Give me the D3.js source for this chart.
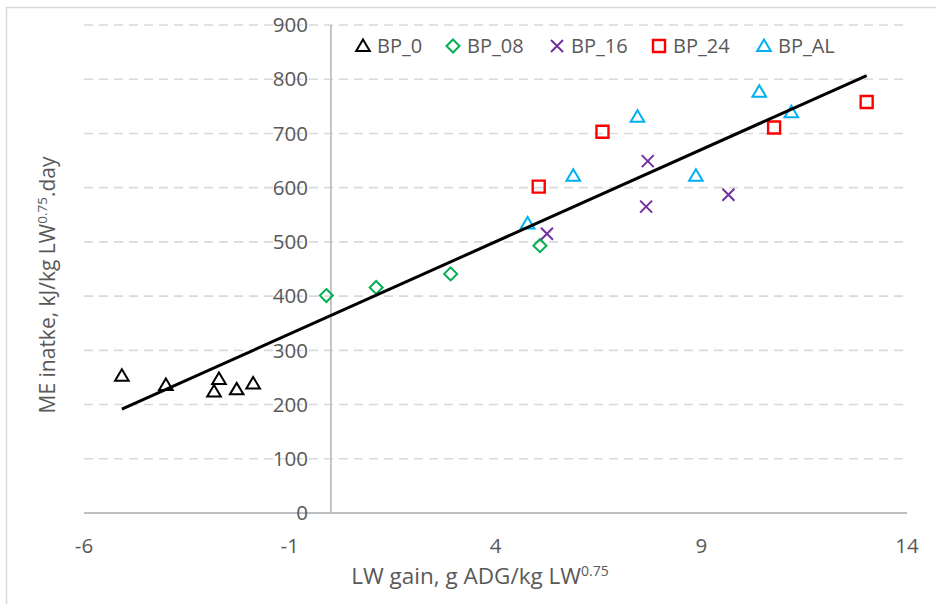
<!DOCTYPE html>
<html>
<head>
<meta charset="utf-8">
<script src="https://cdn.jsdelivr.net/npm/d3@7/dist/d3.min.js"></script>
<style>
  html, body { margin: 0; padding: 0; background: #fff; }
  svg { display: block; font-family: "Open Sans", Lato, sans-serif; }
</style>
</head>
<body>
<svg id="chart" width="936" height="604"></svg>
<script>
// Live-weight gain (x) vs ME intake (y) for each treatment group
const seriesNames = ["BP_0", "BP_08", "BP_16", "BP_24", "BP_AL"];
const bp0X  = [-5.08, -4.01, -2.84, -2.72, -2.29, -1.89];
const bp0Y  = [253, 236, 224, 247, 228, 239];
const bp08X = [-0.11, 1.10, 2.91, 5.08];
const bp08Y = [401, 416, 441, 493];
const bp16X = [5.25, 7.70, 7.66, 9.66];
const bp16Y = [515, 649, 565, 587];
const bp24X = [5.05, 6.60, 10.77, 13.02];
const bp24Y = [602, 703, 711, 758];
const bpAlX = [4.78, 5.89, 7.45, 8.87, 10.41, 11.19];
const bpAlY = [534, 622, 731, 622, 777, 739];

const xTicks = [-6, -1, 4, 9, 14];
const yTicks = [0, 100, 200, 300, 400, 500, 600, 700, 800, 900];

const seriesX = [bp0X, bp08X, bp16X, bp24X, bpAlX];
const seriesY = [bp0Y, bp08Y, bp16Y, bp24Y, bpAlY];
const colors  = ["#000000", "#00B050", "#7030A0", "#FF0000", "#00B0F0"];
const shapes  = ["triangle", "diamond", "cross", "square", "triangle"];

const series = seriesNames.map((name, i) => ({
  name, color: colors[i], shape: shapes[i],
  points: seriesX[i].map((x, j) => ({ x, y: seriesY[i][j] }))
}));

const svg = d3.select("#chart");
const x = d3.scaleLinear().domain([-6, 14]).range([84, 907]);
const y = d3.scaleLinear().domain([0, 900]).range([513, 25]);

const textColor = "#595959";
const tickSize = 20.5;
const titleSize = 21;

// outer chart frame
svg.append("rect")
  .attr("x", 6.5).attr("y", 7.5).attr("width", 940).attr("height", 610)
  .attr("fill", "none").attr("stroke", "#d9d9d9").attr("stroke-width", 1.5);

// horizontal dashed gridlines
svg.append("g")
  .selectAll("line")
  .data(yTicks.filter(d => d > 0))
  .join("line")
  .attr("x1", x(-6)).attr("x2", x(14))
  .attr("y1", d => y(d)).attr("y2", d => y(d))
  .attr("stroke", "#d9d9d9").attr("stroke-width", 1.6)
  .attr("stroke-dasharray", "9,6");

// x axis line at y = 0
svg.append("line")
  .attr("x1", x(-6)).attr("x2", x(14))
  .attr("y1", y(0)).attr("y2", y(0))
  .attr("stroke", "#bfbfbf").attr("stroke-width", 2.2);

// y axis line at x = 0
svg.append("line")
  .attr("x1", x(0)).attr("x2", x(0))
  .attr("y1", y(900)).attr("y2", y(0))
  .attr("stroke", "#bfbfbf").attr("stroke-width", 1.8);

// y tick labels
svg.append("g")
  .selectAll("text")
  .data(yTicks)
  .join("text")
  .attr("x", x(0) - 23)
  .attr("y", d => y(d))
  .attr("dy", "0.35em")
  .attr("text-anchor", "end")
  .attr("fill", textColor)
  .attr("font-size", tickSize)
  .text(d => d);

// x tick labels
svg.append("g")
  .selectAll("text")
  .data(xTicks)
  .join("text")
  .attr("x", d => x(d))
  .attr("y", 553)
  .attr("text-anchor", "middle")
  .attr("fill", textColor)
  .attr("font-size", tickSize)
  .text(d => d);

// axis titles
const xt = svg.append("text")
  .attr("x", 480).attr("y", 584)
  .attr("text-anchor", "middle")
  .attr("fill", textColor).attr("font-size", 22.5);
xt.append("tspan").text("LW gain, g ADG/kg LW");
xt.append("tspan").attr("font-size", 14).attr("dy", -8).text("0.75");

const yt = svg.append("text")
  .attr("transform", "translate(55,285) rotate(-90)")
  .attr("text-anchor", "middle")
  .attr("fill", textColor).attr("font-size", titleSize);
yt.append("tspan").text("ME inatke, kJ/kg LW");
yt.append("tspan").attr("font-size", 13.5).attr("dy", -8).text("0.75");
yt.append("tspan").attr("dy", 8).text(".day");

// marker path generators
function markerPath(shape) {
  switch (shape) {
    case "triangle": return "M0,-6.5L6.8,5L-6.8,5Z";
    case "diamond":  return "M0,-6.5L6.5,0L0,6.5L-6.5,0Z";
    case "square":   return "M-6,-6H6V6H-6Z";
    case "cross":    return "M-6,-6L6,6M6,-6L-6,6";
  }
}
function strokeW(shape) { return shape === "square" ? 2.4 : 2; }

// linear least-squares trendline across all points
const all = series.flatMap(s => s.points);
const mx = d3.mean(all, d => d.x), my = d3.mean(all, d => d.y);
const slope = d3.sum(all, d => (d.x - mx) * (d.y - my)) / d3.sum(all, d => (d.x - mx) ** 2);
const intercept = my - slope * mx;
const [xmin, xmax] = d3.extent(all, d => d.x);

// data markers
series.forEach(s => {
  svg.append("g")
    .selectAll("path")
    .data(s.points)
    .join("path")
    .attr("transform", d => `translate(${x(d.x)},${y(d.y)})`)
    .attr("d", markerPath(s.shape))
    .attr("fill", "none")
    .attr("stroke", s.color)
    .attr("stroke-width", strokeW(s.shape));
});

svg.append("line")
  .attr("x1", x(xmin)).attr("y1", y(slope * xmin + intercept))
  .attr("x2", x(xmax)).attr("y2", y(slope * xmax + intercept))
  .attr("stroke", "#000").attr("stroke-width", 3);

// legend
const legendX = [363, 453, 557, 659, 764];
const legend = svg.append("g");
series.forEach((s, i) => {
  legend.append("path")
    .attr("transform", `translate(${legendX[i]},46)`)
    .attr("d", markerPath(s.shape))
    .attr("fill", "none")
    .attr("stroke", s.color)
    .attr("stroke-width", strokeW(s.shape));
  legend.append("text")
    .attr("x", legendX[i] + 14).attr("y", 46)
    .attr("dy", "0.35em")
    .attr("fill", textColor).attr("font-size", titleSize - 1)
    .text(s.name);
});
</script>
</body>
</html>
